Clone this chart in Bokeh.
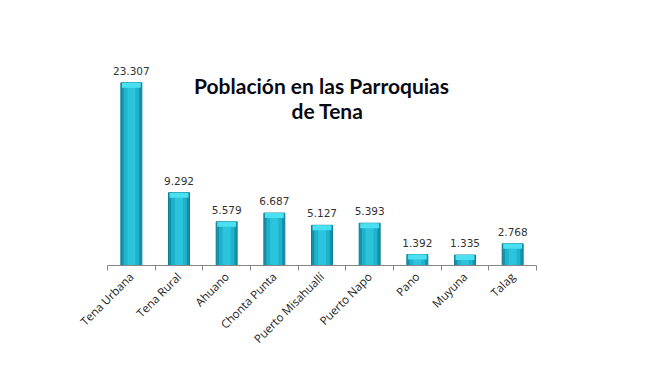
import math
from bokeh.plotting import figure
from bokeh.models import Range1d, FixedTicker, Label
from bokeh.embed import file_html
from bokeh.resources import INLINE

categories = ["Tena Urbana", "Tena Rural", "Ahuano", "Chonta Punta", "Puerto Misahuallí",
              "Puerto Napo", "Pano", "Muyuna", "Talag"]
population = [23307, 9292, 5579, 6687, 5127, 5393, 1392, 1335, 2768]
value_labels = [f"{v:,}".replace(",", ".") for v in population]
title_lines = ["Población en las Parroquias", "de Tena"]

n = len(categories)
xs = [i + 0.5 for i in range(n)]

YMAX = 28700
W, H = 634, 374
BL, BR, BT, BB = 107, 98, 40, 109
frame_h = H - BT - BB
units_per_px = YMAX / frame_h
frame_bottom = H - BB

p = figure(width=W, height=H, output_backend="svg", toolbar_location=None,
           x_range=Range1d(0, n), y_range=Range1d(0, YMAX),
           y_axis_location=None, min_border_left=BL, min_border_right=BR,
           min_border_top=BT, min_border_bottom=BB)
p.outline_line_color = None
p.xgrid.visible = False
p.ygrid.visible = False
p.background_fill_color = "white"
p.border_fill_color = "white"

# bars: layered to mimic cylinder shading
bw = 0.44
p.vbar(x=xs, top=population, bottom=0, width=bw, fill_color="#1391a9", line_color="#10808f", line_width=1)
p.vbar(x=xs, top=population, bottom=0, width=bw * 0.74, fill_color="#1eb2cc", line_color=None)
p.vbar(x=xs, top=population, bottom=0, width=bw * 0.38, fill_color="#2cc3dc", line_color=None)
cap = 5 * units_per_px
p.vbar(x=xs, top=population, bottom=[v - cap for v in population], width=bw * 0.9,
       fill_color="#4ae0f2", line_color=None)

p.text(x=xs, y=population, text=value_labels, y_offset=-8, text_align="center",
       text_baseline="bottom", text_font_size="10.5px", text_color="#333333",
       text_font={"value": "DejaVu Sans"})

ax = p.xaxis[0]
ax.ticker = FixedTicker(ticks=xs, minor_ticks=list(range(n + 1)))
ax.major_label_overrides = {x: c for x, c in zip(xs, categories)}
ax.major_label_orientation = math.pi / 4
ax.major_tick_out = 0
ax.major_tick_in = 0
ax.minor_tick_out = 5
ax.minor_tick_in = 0
ax.minor_tick_line_color = "#868686"
ax.axis_line_color = "#868686"
ax.major_label_text_font = "Open Sans"
ax.major_label_text_font_size = "11.5px"
ax.major_label_text_color = "#222222"
ax.major_label_standoff = 4

def data_y(py):
    return (frame_bottom - py) * units_per_px

for line, py, px in zip(title_lines, [85, 110], [321, 327]):
    p.add_layout(Label(x=(px - BL) / ((W - BL - BR) / n), y=data_y(py), text=line,
                       text_align="center", text_baseline="alphabetic",
                       text_font="Lato", text_font_style="bold", text_font_size="21px",
                       text_color="#0a0a14"))

open("out.html", "w").write(file_html(p, INLINE))
